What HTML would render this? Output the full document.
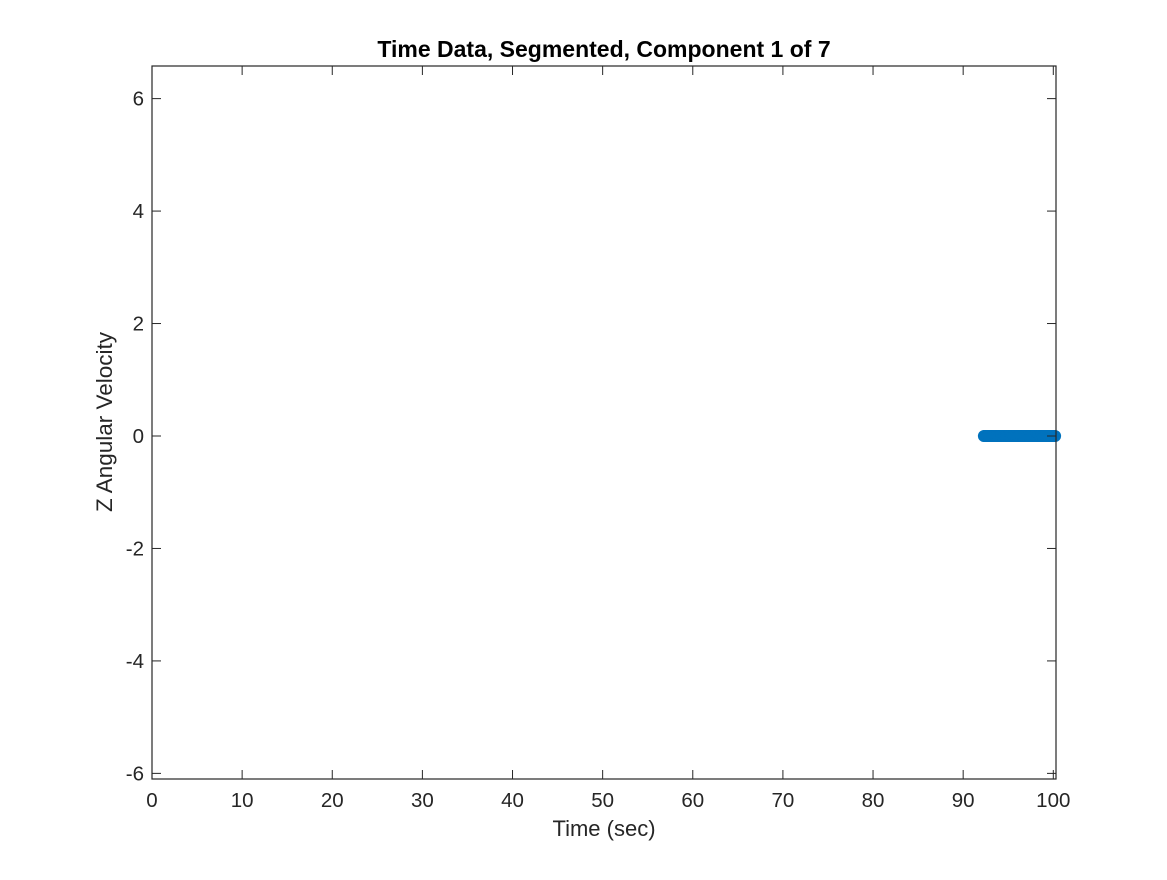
<!DOCTYPE html>
<html><head><meta charset="utf-8"><style>
body{margin:0;background:#fff;}
svg text{font-family:"Liberation Sans",sans-serif;fill:#262626;}
</style></head><body>
<svg id="chart" width="1167" height="875">
<rect width="1167" height="875" fill="#fff"/>
<g id="marks"></g>
<g id="axes"></g>
<text x="604" y="57" text-anchor="middle" font-size="23" font-weight="bold" style="fill:#000">Time Data, Segmented, Component 1 of 7</text>
<text x="604" y="836" text-anchor="middle" font-size="22">Time (sec)</text>
<text transform="translate(112,422) rotate(-90)" text-anchor="middle" font-size="22.5">Z Angular Velocity</text>
</svg>
<script>
const times = [92.3,92.4,92.5,92.6,92.7,92.8,92.9,93.0,93.1,93.2,93.3,93.4,93.5,93.6,93.7,93.8,93.9,94.0,94.1,94.2,94.3,94.4,94.5,94.6,94.7,94.8,94.9,95.0,95.1,95.2,95.3,95.4,95.5,95.6,95.7,95.8,95.9,96.0,96.1,96.2,96.3,96.4,96.5,96.6,96.7,96.8,96.9,97.0,97.1,97.2,97.3,97.4,97.5,97.6,97.7,97.8,97.9,98.0,98.1,98.2,98.3,98.4,98.5,98.6,98.7,98.8,98.9,99.0,99.1,99.2,99.3,99.4,99.5,99.6,99.7,99.8,99.9,100.0,100.1,100.2];
const values = [0,0,0,0,0,0,0,0,0,0,0,0,0,0,0,0,0,0,0,0,0,0,0,0,0,0,0,0,0,0,0,0,0,0,0,0,0,0,0,0,0,0,0,0,0,0,0,0,0,0,0,0,0,0,0,0,0,0,0,0,0,0,0,0,0,0,0,0,0,0,0,0,0,0,0,0,0,0,0,0];
const xTicks = [0,10,20,30,40,50,60,70,80,90,100];
const yTicks = [-6,-4,-2,0,2,4,6];
const NS="http://www.w3.org/2000/svg";
const L=152,R=1056,T=66,B=779,xmin=0,xmax=100.3,ymin=-6.1,ymax=6.58;
const xs=v=>L+(v-xmin)/(xmax-xmin)*(R-L);
const ys=v=>B-(v-ymin)/(ymax-ymin)*(B-T);
function mk(tag,attrs,parent){const e=document.createElementNS(NS,tag);for(const k in attrs)e.setAttribute(k,attrs[k]);parent.appendChild(e);return e;}
const axes=document.getElementById('axes'),marks=document.getElementById('marks');
times.forEach((t,i)=>{
  const c=mk('circle',{cx:xs(t),cy:ys(values[i]),r:5,fill:'none',stroke:'#0072BD','stroke-width':2},marks);
  
  
});
const box=mk('rect',{x:L,y:T,width:R-L,height:B-T,fill:'none',stroke:'#262626','stroke-width':1.2},axes);


xTicks.forEach(v=>{
  const x=xs(v);
  mk('line',{x1:x,y1:B,x2:x,y2:B-9,stroke:'#262626'},axes);
  mk('line',{x1:x,y1:T,x2:x,y2:T+9,stroke:'#262626'},axes);
  const t=mk('text',{x:x,y:B+28,'text-anchor':'middle','font-size':20.5},axes);
  t.textContent=v;
  
  
});
yTicks.forEach(v=>{
  const y=ys(v);
  mk('line',{x1:L,y1:y,x2:L+9,y2:y,stroke:'#262626'},axes);
  mk('line',{x1:R,y1:y,x2:R-9,y2:y,stroke:'#262626'},axes);
  const t=mk('text',{x:L-8,y:y+7,'text-anchor':'end','font-size':20.5},axes);
  t.textContent=v;
  
  
});
</script>
</body></html>
